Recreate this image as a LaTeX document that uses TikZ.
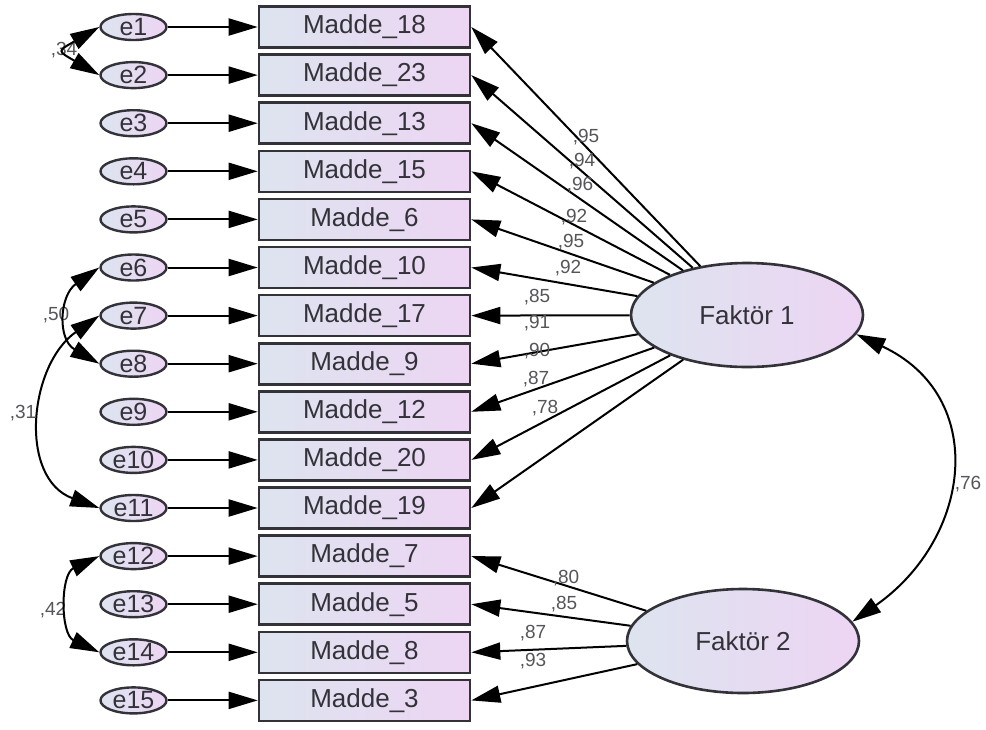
\documentclass[tikz,border=0pt]{standalone}
\usepackage{fontspec}
\setmainfont{Liberation Sans}
\usetikzlibrary{arrows.meta,shapes.geometric}
\definecolor{lblue}{RGB}{221,228,239}
\definecolor{lpink}{RGB}{237,213,243}
\definecolor{ink}{RGB}{50,50,56}
\definecolor{lgrey}{RGB}{85,85,90}
\begin{document}
\begin{tikzpicture}[x=0.5pt, y=-0.5pt, node distance=24.05pt, >={Triangle[length=14.5pt,width=8.5pt]},
            item/.style = {draw=ink, line width=1.3pt, left color=lblue, right color=lpink, minimum width=105.5pt, minimum height=20.5pt, inner sep=0pt, text=ink, font=\fontsize{13}{15}\selectfont},
            err/.style = {draw=ink, ellipse, line width=1.2pt, left color=lblue, right color=lpink, minimum width=33pt, minimum height=13pt, inner sep=0pt, text=ink, font=\fontsize{12.5}{14}\selectfont},
            fac/.style = {draw=ink, ellipse, line width=1.3pt, left color=lblue, right color=lpink, minimum width=116pt, minimum height=52pt, inner sep=0pt, text=ink, font=\fontsize{13}{15}\selectfont},
            lbl/.style = {text=lgrey, inner sep=0pt, font=\fontsize{9.5}{10}\selectfont},
            load/.style = {->, line width=1pt},
            cov/.style = {<->, line width=1pt}]
            \useasboundingbox (0,0) rectangle (986,729);
            % items
            \node[item] (m18) at (364.5,27) {Madde\_18};
            \node[item] (m23) [below of=m18] {Madde\_23};
            \node[item] (m13) [below of=m23] {Madde\_13};
            \node[item] (m15) [below of=m13] {Madde\_15};
            \node[item] (m6) [below of=m15] {Madde\_6};
            \node[item] (m10) [below of=m6] {Madde\_10};
            \node[item] (m17) [below of=m10] {Madde\_17};
            \node[item] (m9) [below of=m17] {Madde\_9};
            \node[item] (m12) [below of=m9] {Madde\_12};
            \node[item] (m20) [below of=m12] {Madde\_20};
            \node[item] (m19) [below of=m20] {Madde\_19};
            \node[item] (m7) [below of=m19] {Madde\_7};
            \node[item] (m5) [below of=m7] {Madde\_5};
            \node[item] (m8) [below of=m5] {Madde\_8};
            \node[item] (m3) [below of=m8] {Madde\_3};
            % errors
            \begin{scope}[node distance=115.5pt]
            \node[err] (e1) [left of=m18] {e1};
            \node[err] (e2) [left of=m23] {e2};
            \node[err] (e3) [left of=m13] {e3};
            \node[err] (e4) [left of=m15] {e4};
            \node[err] (e5) [left of=m6] {e5};
            \node[err] (e6) [left of=m10] {e6};
            \node[err] (e7) [left of=m17] {e7};
            \node[err] (e8) [left of=m9] {e8};
            \node[err] (e9) [left of=m12] {e9};
            \node[err] (e10) [left of=m20] {e10};
            \node[err] (e11) [left of=m19] {e11};
            \node[err] (e12) [left of=m7] {e12};
            \node[err] (e13) [left of=m5] {e13};
            \node[err] (e14) [left of=m8] {e14};
            \node[err] (e15) [left of=m3] {e15};
            \end{scope}
            \draw[load] (e1) -- (m18);
            \draw[load] (e2) -- (m23);
            \draw[load] (e3) -- (m13);
            \draw[load] (e4) -- (m15);
            \draw[load] (e5) -- (m6);
            \draw[load] (e6) -- (m10);
            \draw[load] (e7) -- (m17);
            \draw[load] (e8) -- (m9);
            \draw[load] (e9) -- (m12);
            \draw[load] (e10) -- (m20);
            \draw[load] (e11) -- (m19);
            \draw[load] (e12) -- (m7);
            \draw[load] (e13) -- (m5);
            \draw[load] (e14) -- (m8);
            \draw[load] (e15) -- (m3);
            % factors
            \node[fac] (F1) at (747,315) {Faktör 1};
            \node[fac] (F2) at (743,641) {Faktör 2};
            \draw[load] (F1) -- (m18.east);
            \draw[load] (F1) -- (m23.east);
            \draw[load] (F1) -- (m13.east);
            \draw[load] (F1) -- (m15.east);
            \draw[load] (F1) -- (m6.east);
            \draw[load] (F1) -- (m10.east);
            \draw[load] (F1) -- (m17.east);
            \draw[load] (F1) -- (m9.east);
            \draw[load] (F1) -- (m12.east);
            \draw[load] (F1) -- (m20.east);
            \draw[load] (F1) -- (m19.east);
            \draw[load] (F2) -- (m7.east);
            \draw[load] (F2) -- (m5.east);
            \draw[load] (F2) -- (m8.east);
            \draw[load] (F2) -- (m3.east);
            % loadings
            \node[lbl] (l18) at (586,137) {,95};
            \node[lbl] (l23) at (582,161) {,94};
            \node[lbl] (l13) at (580,185) {,96};
            \node[lbl] (l15) at (574,217) {,92};
            \node[lbl] (l6) at (571,242) {,95};
            \node[lbl] (l10) at (568,268) {,92};
            \node[lbl] (l17) at (537,297) {,85};
            \node[lbl] (l9) at (537,323) {,91};
            \node[lbl] (l12) at (537,351) {,90};
            \node[lbl] (l20) at (536,379) {,87};
            \node[lbl] (l19) at (545,408) {,78};
            \node[lbl] (l7) at (566,578) {,80};
            \node[lbl] (l5) at (564,604) {,85};
            \node[lbl] (l8) at (533,633) {,87};
            \node[lbl] (l3) at (533,661) {,93};
            % covariances
            \node[lbl] (c12) at (64,50) {,34};
            \node[lbl] (c68) at (56,315) {,50};
            \node[lbl] (c711) at (23,413) {,31};
            \node[lbl] (c1214) at (53,610) {,42};
            \node[lbl] (cf) at (968,484) {,76};
            \draw[cov] (e1.west) to[out=210, in=150, looseness=2.6] (e2.west);
            \draw[cov] (e6.west) to[out=215, in=150, looseness=1.3] (e8.west);
            \draw[cov] (e7.west) to[out=215, in=160, looseness=1.15] (e11.west);
            \draw[cov] (e12.west) to[out=205, in=155, looseness=1.15] (e14.west);
            \draw[cov] (F1.350) to[out=335, in=35, looseness=1.3] (F2.10);
        \end{tikzpicture}
\end{document}
